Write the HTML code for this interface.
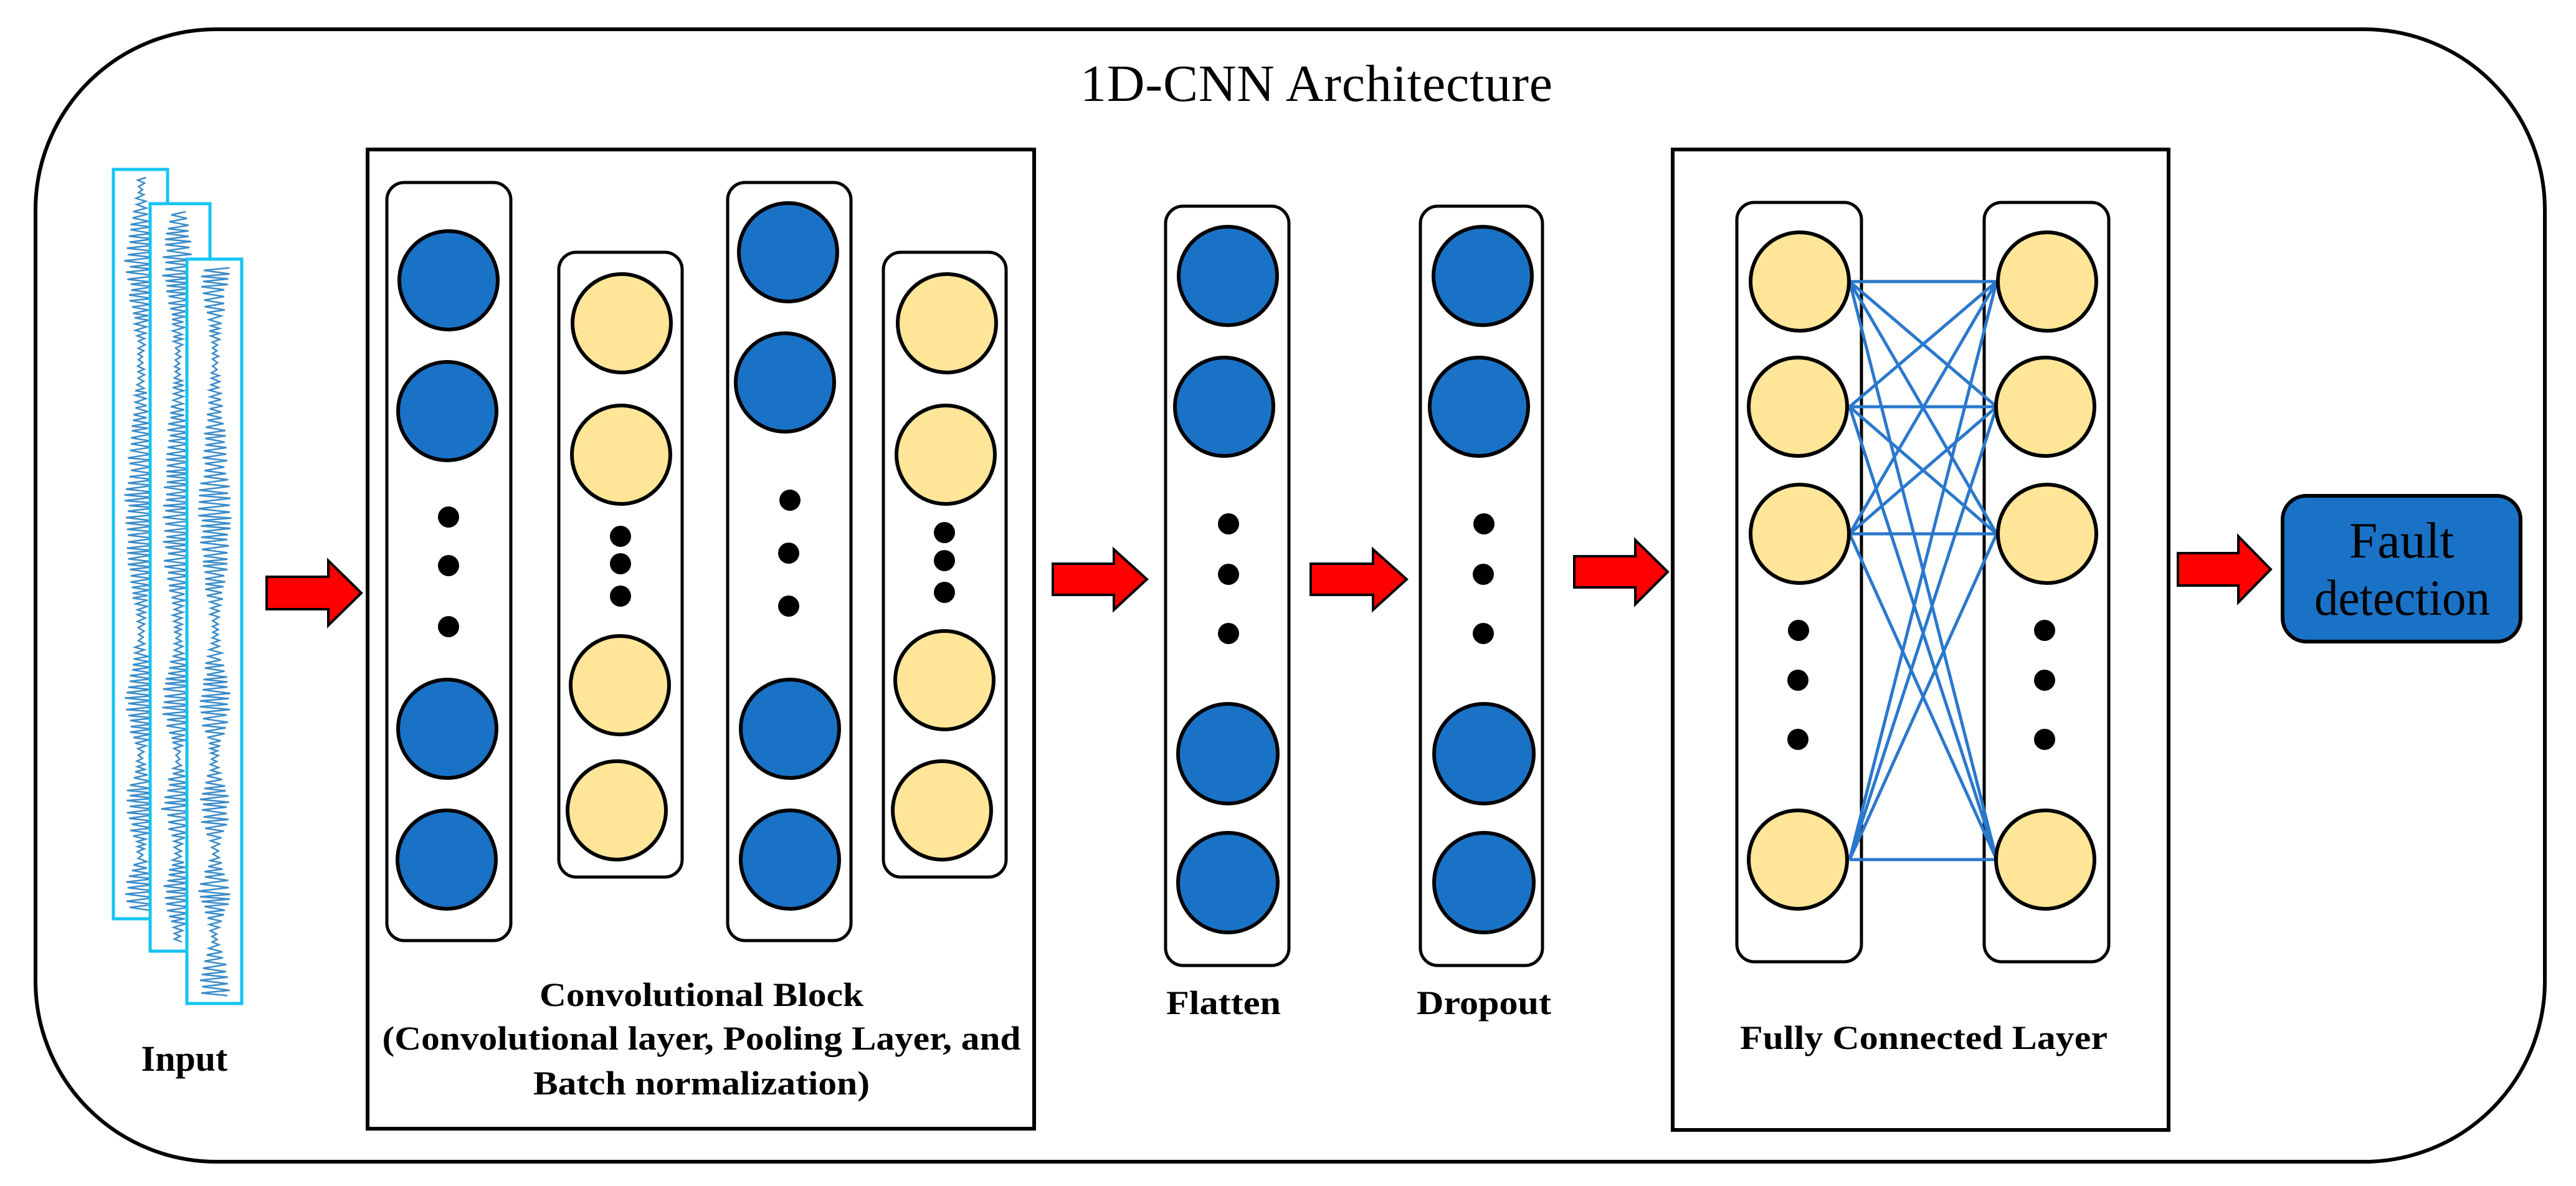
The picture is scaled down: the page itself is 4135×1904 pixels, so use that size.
<!DOCTYPE html>
<html><head><meta charset="utf-8"><style>html,body{margin:0;padding:0;background:#fff}svg{display:block}text{font-family:"Liberation Serif",serif}</style></head>
<body>
<svg id="s" width="4135" height="1904" viewBox="0 0 4135 1904" xmlns="http://www.w3.org/2000/svg">
<rect x="57" y="47" width="4028" height="1818" rx="290" ry="290" fill="#fff" stroke="#000" stroke-width="6"/>
<text x="2113" y="162" font-size="84" text-anchor="middle" textLength="758">1D-CNN Architecture</text>

<g id="frames">
<rect x="182" y="272" width="87" height="1203" fill="#fff" stroke="#14c4f2" stroke-width="5"/>
<g id="sig1"></g>
<rect x="241" y="327" width="96" height="1200" fill="#fff" stroke="#14c4f2" stroke-width="5"/>
<g id="sig2"></g>
<rect x="300" y="416" width="88" height="1195" fill="#fff" stroke="#14c4f2" stroke-width="5"/>
<g id="sig3"></g>
</g>
<text x="296" y="1719" font-size="58" font-weight="bold" text-anchor="middle">Input</text>

<g fill="#ff0000" stroke="#000" stroke-width="4">
<polygon points="428,926 527,926 527,900 580,952 527,1004 527,978 428,978"/>
<polygon points="1690,905 1788,905 1788,882 1841,930 1788,979 1788,955 1690,955"/>
<polygon points="2104,905 2204,905 2204,882 2258,930 2204,979 2204,955 2104,955"/>
<polygon points="2527,893 2625,893 2625,867 2677,918 2625,970 2625,943 2527,943"/>
<polygon points="3496,888 3593,888 3593,861 3645,914 3593,967 3593,940 3496,940"/>
</g>

<rect x="590" y="240" width="1070" height="1572" fill="none" stroke="#000" stroke-width="6"/>
<g fill="#fff" stroke="#000" stroke-width="5">
<rect x="621" y="293" width="199" height="1217" rx="28"/>
<rect x="897" y="405" width="198" height="1003" rx="28"/>
<rect x="1168" y="293" width="198" height="1217" rx="28"/>
<rect x="1418" y="405" width="197" height="1003" rx="28"/>
<rect x="1871" y="331" width="198" height="1219" rx="28"/>
<rect x="2280" y="331" width="196" height="1219" rx="28"/>
<rect x="2788" y="325" width="200" height="1219" rx="28"/>
<rect x="3185" y="325" width="200" height="1219" rx="28"/>
</g>
<rect x="2685" y="240" width="796" height="1574" fill="none" stroke="#000" stroke-width="6"/>

<g stroke="#2a78cc" stroke-width="5">
<line x1="2969" y1="452" x2="3205" y2="452"/><line x1="2969" y1="452" x2="3205" y2="653"/><line x1="2969" y1="452" x2="3205" y2="857"/><line x1="2969" y1="452" x2="3205" y2="1380"/>
<line x1="2969" y1="653" x2="3205" y2="452"/><line x1="2969" y1="653" x2="3205" y2="653"/><line x1="2969" y1="653" x2="3205" y2="857"/><line x1="2969" y1="653" x2="3205" y2="1380"/>
<line x1="2969" y1="857" x2="3205" y2="452"/><line x1="2969" y1="857" x2="3205" y2="653"/><line x1="2969" y1="857" x2="3205" y2="857"/><line x1="2969" y1="857" x2="3205" y2="1380"/>
<line x1="2969" y1="1380" x2="3205" y2="452"/><line x1="2969" y1="1380" x2="3205" y2="653"/><line x1="2969" y1="1380" x2="3205" y2="857"/><line x1="2969" y1="1380" x2="3205" y2="1380"/>
</g>

<g fill="#1a72c6" stroke="#000" stroke-width="6">
<circle cx="720" cy="450" r="79"/><circle cx="718" cy="660" r="79"/><circle cx="718" cy="1170" r="79"/><circle cx="717" cy="1380" r="79"/>
<circle cx="1265" cy="405" r="79"/><circle cx="1260" cy="614" r="79"/><circle cx="1268" cy="1170" r="79"/><circle cx="1268" cy="1380" r="79"/>
<circle cx="1971" cy="443" r="79"/><circle cx="1965" cy="653" r="79"/><circle cx="1971" cy="1210" r="80"/><circle cx="1971" cy="1417" r="80"/>
<circle cx="2380" cy="443" r="79"/><circle cx="2374" cy="653" r="79"/><circle cx="2382" cy="1210" r="80"/><circle cx="2382" cy="1417" r="80"/>
</g>
<g fill="#ffe598" stroke="#000" stroke-width="6">
<circle cx="998" cy="519" r="79"/><circle cx="997" cy="730" r="79"/><circle cx="995" cy="1100" r="79"/><circle cx="990" cy="1301" r="79"/>
<circle cx="1520" cy="519" r="79"/><circle cx="1518" cy="730" r="79"/><circle cx="1516" cy="1092" r="79"/><circle cx="1512" cy="1301" r="79"/>
<circle cx="2889" cy="452" r="79"/><circle cx="2886" cy="653" r="79"/><circle cx="2889" cy="857" r="79"/><circle cx="2886" cy="1380" r="79"/>
<circle cx="3286" cy="452" r="79"/><circle cx="3283" cy="653" r="79"/><circle cx="3286" cy="857" r="79"/><circle cx="3283" cy="1380" r="79"/>
</g>
<g fill="#000">
<circle cx="720" cy="830" r="17"/><circle cx="720" cy="908" r="17"/><circle cx="720" cy="1006" r="17"/>
<circle cx="996" cy="861" r="17"/><circle cx="996" cy="905" r="17"/><circle cx="996" cy="957" r="17"/>
<circle cx="1268" cy="803" r="17"/><circle cx="1266" cy="888" r="17"/><circle cx="1266" cy="973" r="17"/>
<circle cx="1516" cy="855" r="17"/><circle cx="1516" cy="900" r="17"/><circle cx="1516" cy="951" r="17"/>
<circle cx="1972" cy="841" r="17"/><circle cx="1972" cy="922" r="17"/><circle cx="1972" cy="1017" r="17"/>
<circle cx="2382" cy="841" r="17"/><circle cx="2381" cy="922" r="17"/><circle cx="2381" cy="1017" r="17"/>
<circle cx="2887" cy="1012" r="17"/><circle cx="2886" cy="1092" r="17"/><circle cx="2886" cy="1187" r="17"/>
<circle cx="3282" cy="1012" r="17"/><circle cx="3282" cy="1092" r="17"/><circle cx="3282" cy="1187" r="17"/>
</g>

<g font-weight="bold" font-size="54" text-anchor="middle">
<text x="1126" y="1615" textLength="520" lengthAdjust="spacingAndGlyphs">Convolutional Block</text>
<text x="1126" y="1685" textLength="1025" lengthAdjust="spacingAndGlyphs">(Convolutional layer, Pooling Layer, and</text>
<text x="1126" y="1757" textLength="540" lengthAdjust="spacingAndGlyphs">Batch normalization)</text>
<text x="1964" y="1628" textLength="184" lengthAdjust="spacingAndGlyphs">Flatten</text>
<text x="2382" y="1628" textLength="216" lengthAdjust="spacingAndGlyphs">Dropout</text>
<text x="3088" y="1684" textLength="590" lengthAdjust="spacingAndGlyphs">Fully Connected Layer</text>
</g>

<rect x="3664" y="796" width="382" height="234" rx="38" fill="#1a72c6" stroke="#000" stroke-width="6"/>
<text x="3855" y="895" font-size="82" text-anchor="middle">Fault</text>
<text x="3856" y="987" font-size="82" text-anchor="middle" textLength="282" lengthAdjust="spacingAndGlyphs">detection</text>
</svg>
<script>
(function(){
var seed=7;function r(){seed=(seed*16807)%2147483647;return seed/2147483647;}
function sig(id,cx,y0,y1,xmin,xmax){
  var pts=[],y=y0,ph=0;
  while(y<y1){
    var env=0.15+0.85*Math.pow(Math.abs(Math.sin(y/70+Math.sin(y/230)*2)),1.5)*(0.7+0.3*r());
    var a=env*26;
    ph++;
    var x=cx+(ph%2?a:-a)+(r()-0.5)*4;
    if(x>xmax)x=xmax; if(x<xmin)x=xmin;
    pts.push(x.toFixed(1)+","+y.toFixed(1));
    y+=3.5+r()*2.5;
  }
  document.getElementById(id).innerHTML='<polyline points="'+pts.join(" ")+'" fill="none" stroke="#3a8bc8" stroke-width="2.5"/>';
}
sig("sig1",226,285,1465,190,262);
sig("sig2",286,340,1515,248,330);
sig("sig3",345,430,1600,306,382);
})();
</script>
</body></html>
